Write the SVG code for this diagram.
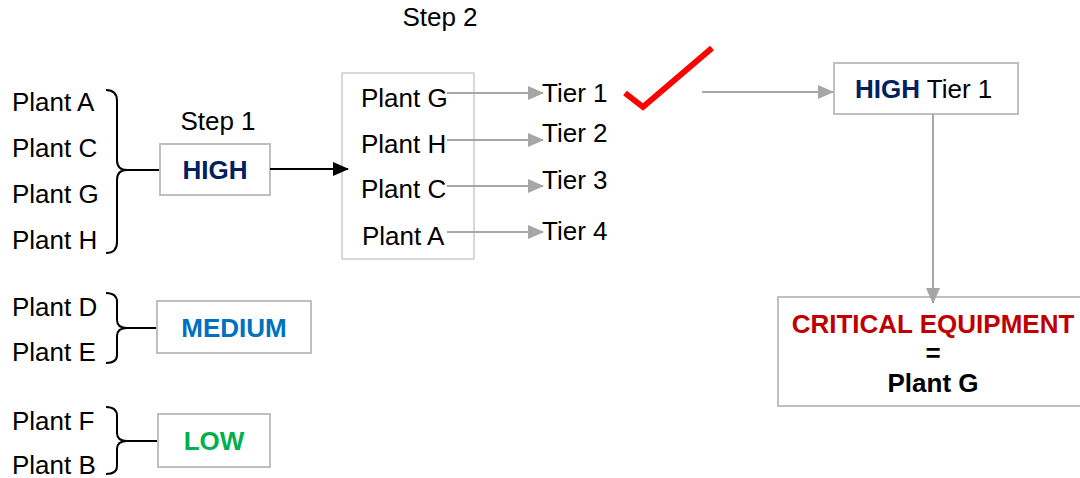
<svg xmlns="http://www.w3.org/2000/svg" width="1080" height="478" viewBox="0 0 1080 478">
<defs>
<style>
text{font-family:"Liberation Sans",Arial,sans-serif;font-size:26px;fill:#000}
.b{font-weight:bold}
.c{text-anchor:middle}
.box{fill:#fff;stroke:#bfbfbf;stroke-width:2}
.brace{fill:none;stroke:#000;stroke-width:2}
.g{stroke:#a6a6a6;stroke-width:2;fill:none}
</style>
<marker id="ag" markerWidth="16" markerHeight="14" refX="15" refY="7" orient="auto" markerUnits="userSpaceOnUse"><path d="M0,0 L16,7 L0,14 Z" fill="#a6a6a6"/></marker>
<marker id="ab" markerWidth="16" markerHeight="14" refX="15" refY="7" orient="auto" markerUnits="userSpaceOnUse"><path d="M0,0 L16,7 L0,14 Z" fill="#000"/></marker>
</defs>
<rect width="1080" height="478" fill="#fff"/>

<g id="group-high">
<text x="12" y="111">Plant A</text>
<text x="12" y="157">Plant C</text>
<text x="12" y="203">Plant G</text>
<text x="12" y="249">Plant H</text>
<path class="brace" d="M106,90 Q117,90 117,101 L117,160 Q117,170 127,170 Q117,170 117,180 L117,242 Q117,253 106,253"/>
<line x1="126" y1="170" x2="160" y2="170" stroke="#000" stroke-width="2"/>
</g>
<g id="step1">
<text class="c" x="218" y="130">Step 1</text>
<rect class="box" x="160" y="144" width="110" height="51"/>
<text class="b c" x="215" y="179" style="fill:#002060">HIGH</text>
</g>

<g id="group-medium">
<text x="12" y="316">Plant D</text>
<text x="12" y="361">Plant E</text>
<path class="brace" d="M106,293 Q117,293 117,302 L117,320 Q117,328 127,328 Q117,328 117,336 L117,355 Q117,363 106,363"/>
<line x1="126" y1="328" x2="157" y2="328" stroke="#000" stroke-width="2"/>
<rect class="box" x="157" y="301" width="154" height="52"/>
<text class="b c" x="234" y="337" style="fill:#0070c0">MEDIUM</text>
</g>

<g id="group-low">
<text x="12" y="430">Plant F</text>
<text x="12" y="474">Plant B</text>
<path class="brace" d="M106,407 Q117,407 117,416 L117,433 Q117,441 127,441 Q117,441 117,449 L117,466 Q117,474 106,474"/>
<line x1="126" y1="441" x2="158" y2="441" stroke="#000" stroke-width="2"/>
<rect class="box" x="158" y="414" width="112" height="53"/>
<text class="b c" x="214" y="450" style="fill:#00b050">LOW</text>
</g>

<g id="step2">
<text class="c" x="440" y="26">Step 2</text>
<rect x="342" y="73" width="132" height="186" fill="#fff" stroke="#bfbfbf" stroke-width="1.2"/>
<text x="361" y="107">Plant G</text>
<text x="361" y="153">Plant H</text>
<text x="361" y="198">Plant C</text>
<text x="362" y="245">Plant A</text>
</g>

<g id="tiers">
<text x="542" y="102">Tier 1</text>
<text x="542" y="142">Tier 2</text>
<text x="542" y="189">Tier 3</text>
<text x="542" y="240">Tier 4</text>
</g>

<g id="check">
<path d="M625,93 L643,107 L712,48" fill="none" stroke="#ff0000" stroke-width="6" stroke-linejoin="miter"/>
</g>

<g id="high-tier1">
<rect class="box" x="834" y="63" width="184" height="51"/>
<text x="855" y="98"><tspan class="b" style="fill:#002060">HIGH</tspan> Tier 1</text>
</g>

<g id="critical">
<rect class="box" x="778" y="297" width="306" height="109"/>
<text class="b c" x="933" y="333" style="fill:#c00000">CRITICAL EQUIPMENT</text>
<text class="b c" x="933" y="362">=</text>
<text class="b c" x="933" y="392">Plant G</text>
</g>

<g id="connectors">
<line x1="270" y1="169" x2="348" y2="169" stroke="#000" stroke-width="2" marker-end="url(#ab)"/>
<line class="g" x1="447" y1="93" x2="543" y2="93" marker-end="url(#ag)"/>
<line class="g" x1="447" y1="140" x2="543" y2="140" marker-end="url(#ag)"/>
<line class="g" x1="447" y1="186" x2="543" y2="186" marker-end="url(#ag)"/>
<line class="g" x1="447" y1="232" x2="543" y2="232" marker-end="url(#ag)"/>
<line class="g" x1="702" y1="92" x2="833" y2="92" marker-end="url(#ag)"/>
<line class="g" x1="933" y1="114" x2="933" y2="303" marker-end="url(#ag)"/>
</g>
</svg>
